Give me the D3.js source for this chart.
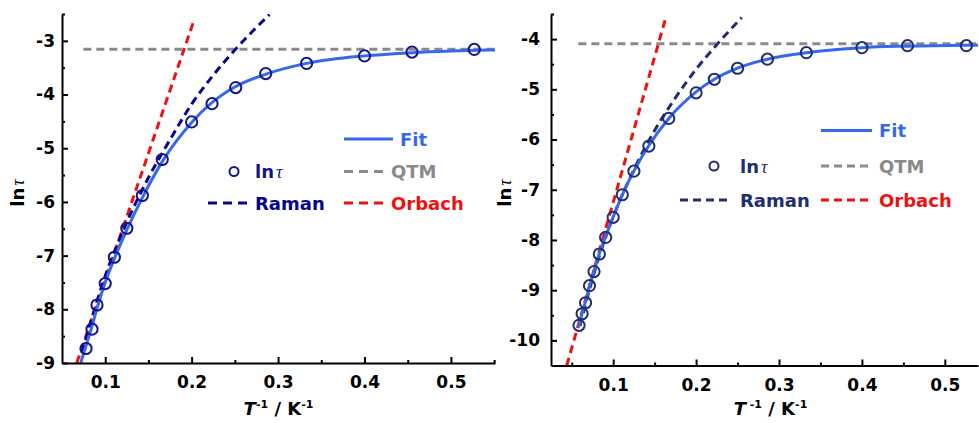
<!DOCTYPE html>
<html>
<head>
<meta charset="utf-8">
<script src="https://cdn.jsdelivr.net/npm/d3@7"></script>
<style>
  body { margin: 0; background: #fff; }
  svg text { font-family: "DejaVu Sans", sans-serif; font-weight: bold; }
</style>
</head>
<body>
<svg id="chart" width="979" height="423"></svg>
<script>
// ---- left panel ----
var leftInvT  = [0.0778, 0.0847, 0.0905, 0.100, 0.1106, 0.125, 0.143, 0.166, 0.200, 0.2236, 0.251, 0.2857, 0.333, 0.400, 0.455, 0.527]
var leftLnTau = [-8.73, -8.37, -7.92, -7.52, -7.03, -6.49, -5.88, -5.21, -4.51, -4.17, -3.87, -3.61, -3.42, -3.28, -3.21, -3.16]
var leftFitX  = [0.0716, 0.0778, 0.085, 0.0905, 0.100, 0.111, 0.125, 0.143, 0.166, 0.200, 0.222, 0.250, 0.286, 0.333, 0.400, 0.455, 0.500, 0.551]
var leftFitY  = [-9.0, -8.68, -8.30, -7.98, -7.50, -7.04, -6.52, -5.92, -5.25, -4.52, -4.17, -3.86, -3.62, -3.42, -3.28, -3.22, -3.19, -3.17]
var leftRamanX = [0.073, 0.100, 0.125, 0.150, 0.175, 0.200, 0.225, 0.250, 0.270, 0.290]
var leftRamanY = [-8.81, -7.38, -6.38, -5.55, -4.84, -4.18, -3.64, -3.17, -2.83, -2.51]
var leftOrbachX = [0.067, 0.202]
var leftOrbachY = [-9.0, -2.65]
var leftQtmX = [0.0747, 0.551]
var leftQtmY = [-3.155, -3.155]

// ---- right panel ----
var rightInvT  = [0.0588, 0.0625, 0.0667, 0.0714, 0.0769, 0.0833, 0.0909, 0.100, 0.111, 0.125, 0.143, 0.167, 0.200, 0.222, 0.250, 0.286, 0.333, 0.400, 0.455, 0.526]
var rightLnTau = [-9.70, -9.47, -9.25, -8.91, -8.63, -8.28, -7.95, -7.55, -7.10, -6.63, -6.13, -5.58, -5.07, -4.80, -4.58, -4.40, -4.27, -4.17, -4.13, -4.13]
var rightFitX  = [0.058, 0.0625, 0.0667, 0.0714, 0.0769, 0.0833, 0.0909, 0.100, 0.111, 0.125, 0.143, 0.167, 0.200, 0.222, 0.250, 0.286, 0.333, 0.400, 0.455, 0.526, 0.540]
var rightFitY  = [-9.74, -9.46, -9.22, -8.92, -8.62, -8.27, -7.93, -7.54, -7.10, -6.63, -6.12, -5.58, -5.05, -4.80, -4.58, -4.40, -4.27, -4.17, -4.14, -4.12, -4.12]
var rightRamanX = [0.060, 0.080, 0.100, 0.125, 0.150, 0.175, 0.200, 0.225, 0.255]
var rightRamanY = [-9.71, -8.49, -7.54, -6.60, -5.82, -5.17, -4.60, -4.11, -3.57]
var rightOrbachX = [0.044, 0.163]
var rightOrbachY = [-10.5, -3.6]
var rightQtmX = [0.058, 0.538]
var rightQtmY = [-4.09, -4.09]

var xTicks = [0.1, 0.2, 0.3, 0.4, 0.5]
var legendNames = ["Fit", "ln", "QTM", "Raman", "Orbach"]

var fitColor = "#3668ee"
var qtmColor = "#8a8a8a"
var orbachColor = "#f01010"

var svg = d3.select("#chart")

function zip(xs, ys) {
    return xs.map((x, i) => [x, ys[i]])
}

function addTau(sel) {
    sel.append("tspan")
        .attr("font-family", "'Liberation Serif', serif")
        .attr("font-style", "italic")
        .attr("font-weight", "normal")
        .attr("dx", 2)
        .text("τ")
}

function drawPanel(p) {
    var xScale = d3.scaleLinear().domain(p.xDomain).range([p.left, p.right])
    var yScale = d3.scaleLinear().domain(p.yDomain).range([p.bottom, p.top])

    var clipId = "clip" + p.id
    svg.append("clipPath").attr("id", clipId)
        .append("rect")
        .attr("x", p.left).attr("y", p.top)
        .attr("width", p.right - p.left).attr("height", p.bottom - p.top)

    var g = svg.append("g").attr("clip-path", `url(#${clipId})`)
    var line = d3.line().x(d => xScale(d[0])).y(d => yScale(d[1]))
    var smooth = d3.line().x(d => xScale(d[0])).y(d => yScale(d[1])).curve(d3.curveMonotoneX)

    // QTM
    g.append("path").datum(zip(p.qtmX, p.qtmY))
        .attr("d", line).attr("fill", "none")
        .attr("stroke", qtmColor).attr("stroke-width", 3).attr("stroke-dasharray", "8,5")
    // Orbach
    g.append("path").datum(zip(p.orbachX, p.orbachY))
        .attr("d", line).attr("fill", "none")
        .attr("stroke", orbachColor).attr("stroke-width", 3).attr("stroke-dasharray", "8,5")
    // Raman
    g.append("path").datum(zip(p.ramanX, p.ramanY))
        .attr("d", smooth).attr("fill", "none")
        .attr("stroke", p.ramanColor).attr("stroke-width", 3).attr("stroke-dasharray", "8,5")
    // Fit
    g.append("path").datum(zip(p.fitX, p.fitY))
        .attr("d", smooth).attr("fill", "none")
        .attr("stroke", fitColor).attr("stroke-width", 3)
    // data
    svg.append("g").selectAll("circle")
        .data(zip(p.invT, p.lnTau))
        .enter()
        .append("circle")
        .attr("cx", d => xScale(d[0]))
        .attr("cy", d => yScale(d[1]))
        .attr("r", 5.6)
        .attr("fill", "none")
        .attr("stroke", p.dotColor)
        .attr("stroke-width", 2)

    // axes
    svg.append("g")
        .attr("transform", `translate(0,${p.bottom})`)
        .call(d3.axisBottom(xScale).tickValues(xTicks).tickSizeInner(-6).tickSizeOuter(0)
            .tickPadding(13).tickFormat(d3.format(".1f")))
    svg.append("g")
        .attr("transform", `translate(0,${p.bottom})`)
        .call(d3.axisBottom(xScale).tickValues(p.xMinor).tickSize(-3).tickFormat(""))
        .select(".domain").remove()

    svg.append("g")
        .attr("transform", `translate(${p.left},0)`)
        .call(d3.axisLeft(yScale).tickValues(p.yTicks).tickSizeInner(-6).tickSizeOuter(0)
            .tickPadding(p.yPad).tickFormat(d => d.toString()))
    svg.append("g")
        .attr("transform", `translate(${p.left},0)`)
        .call(d3.axisLeft(yScale).tickValues(p.yMinor).tickSize(-3).tickFormat(""))
        .select(".domain").remove()

    svg.selectAll(".domain").attr("stroke-width", 2)
    svg.selectAll(".tick line").attr("stroke-width", 2)
    svg.selectAll(".tick text").attr("font-size", 17).attr("fill", "#000")
        .attr("font-family", "'DejaVu Sans', sans-serif").attr("font-weight", "bold")

    // axis titles
    var xt = svg.append("text")
        .attr("x", (p.left + p.right) / 2 + p.xTitleShift)
        .attr("y", 415)
        .attr("text-anchor", "middle")
        .attr("font-size", 18)
    xt.append("tspan").attr("font-style", "italic").text("T")
    xt.append("tspan").attr("dy", -7).attr("font-size", 11).text(p.supGap + "-1")
    xt.append("tspan").attr("dy", 7).text(" / K")
    xt.append("tspan").attr("dy", -7).attr("font-size", 11).text("-1")

    var yt = svg.append("text")
        .attr("transform", `translate(${p.yTitleX},193) rotate(-90)`)
        .attr("text-anchor", "middle")
        .attr("font-size", 18)
    yt.append("tspan").text("ln")
    addTau(yt)

    // legend
    var L = p.legend
    var lg = svg.append("g").attr("font-size", 18)
    lg.append("line").attr("x1", L.col2).attr("x2", L.fitEnd).attr("y1", L.y0).attr("y2", L.y0)
        .attr("stroke", fitColor).attr("stroke-width", 3)
    lg.append("text").attr("x", L.fitText).attr("y", L.y0 + 6.5).attr("fill", fitColor).text(legendNames[0])

    lg.append("circle").attr("cx", L.circleX).attr("cy", L.y1).attr("r", 4.5)
        .attr("fill", "none").attr("stroke", p.dotColor).attr("stroke-width", 2)
    var lt = lg.append("text").attr("x", L.text1).attr("y", L.y1 + 6.5).attr("fill", p.dotColor)
    lt.append("tspan").text(legendNames[1])
    addTau(lt)

    lg.append("line").attr("x1", L.col2).attr("x2", L.col2 + L.dashLen).attr("y1", L.y1).attr("y2", L.y1)
        .attr("stroke", qtmColor).attr("stroke-width", 3).attr("stroke-dasharray", L.dash)
    lg.append("text").attr("x", L.text2).attr("y", L.y1 + 6.5).attr("fill", qtmColor).text(legendNames[2])

    lg.append("line").attr("x1", L.col1).attr("x2", L.col1 + L.dashLen).attr("y1", L.y2).attr("y2", L.y2)
        .attr("stroke", p.ramanColor).attr("stroke-width", 3).attr("stroke-dasharray", L.dash)
    lg.append("text").attr("x", L.text1).attr("y", L.y2 + 6.5).attr("fill", p.ramanColor).text(legendNames[3])

    lg.append("line").attr("x1", L.col2).attr("x2", L.col2 + L.dashLen).attr("y1", L.y2).attr("y2", L.y2)
        .attr("stroke", orbachColor).attr("stroke-width", 3).attr("stroke-dasharray", L.dash)
    lg.append("text").attr("x", L.text2).attr("y", L.y2 + 6.5).attr("fill", orbachColor).text(legendNames[4])
}

drawPanel({
    id: "L",
    left: 62, right: 495, top: 14, bottom: 363,
    xDomain: [0.05, 0.551], yDomain: [-9, -2.5],
    xMinor: [0.15, 0.25, 0.35, 0.45, 0.55],
    yTicks: [-9, -8, -7, -6, -5, -4, -3],
    yMinor: [-8.5, -7.5, -6.5, -5.5, -4.5, -3.5, -2.5],
    yPad: 7, yTitleX: 24, xTitleShift: 0, supGap: "",
    invT: leftInvT, lnTau: leftLnTau, fitX: leftFitX, fitY: leftFitY,
    ramanX: leftRamanX, ramanY: leftRamanY, orbachX: leftOrbachX, orbachY: leftOrbachY,
    qtmX: leftQtmX, qtmY: leftQtmY,
    dotColor: "#14148c", ramanColor: "#06068c",
    legend: { col1: 208, col2: 344, dashLen: 39, text1: 255, text2: 391, circleX: 234,
              fitEnd: 393, fitText: 400, y0: 139, y1: 171.5, y2: 203, dash: "9,6" }
})

drawPanel({
    id: "R",
    left: 551, right: 978, top: 14, bottom: 365.5,
    xDomain: [0.025, 0.54], yDomain: [-10.5, -3.5],
    xMinor: [0.05, 0.15, 0.25, 0.35, 0.45],
    yTicks: [-10, -9, -8, -7, -6, -5, -4],
    yMinor: [-9.5, -8.5, -7.5, -6.5, -5.5, -4.5, -3.5],
    yPad: 11, yTitleX: 511, xTitleShift: 6, supGap: " ",
    invT: rightInvT, lnTau: rightLnTau, fitX: rightFitX, fitY: rightFitY,
    ramanX: rightRamanX, ramanY: rightRamanY, orbachX: rightOrbachX, orbachY: rightOrbachY,
    qtmX: rightQtmX, qtmY: rightQtmY,
    dotColor: "#222c70", ramanColor: "#222c70",
    legend: { col1: 680, col2: 821, dashLen: 52, text1: 740, text2: 879, circleX: 714,
              fitEnd: 872, fitText: 879, y0: 130.5, y1: 166, y2: 200, dash: "8,5" }
})
</script>
</body>
</html>
